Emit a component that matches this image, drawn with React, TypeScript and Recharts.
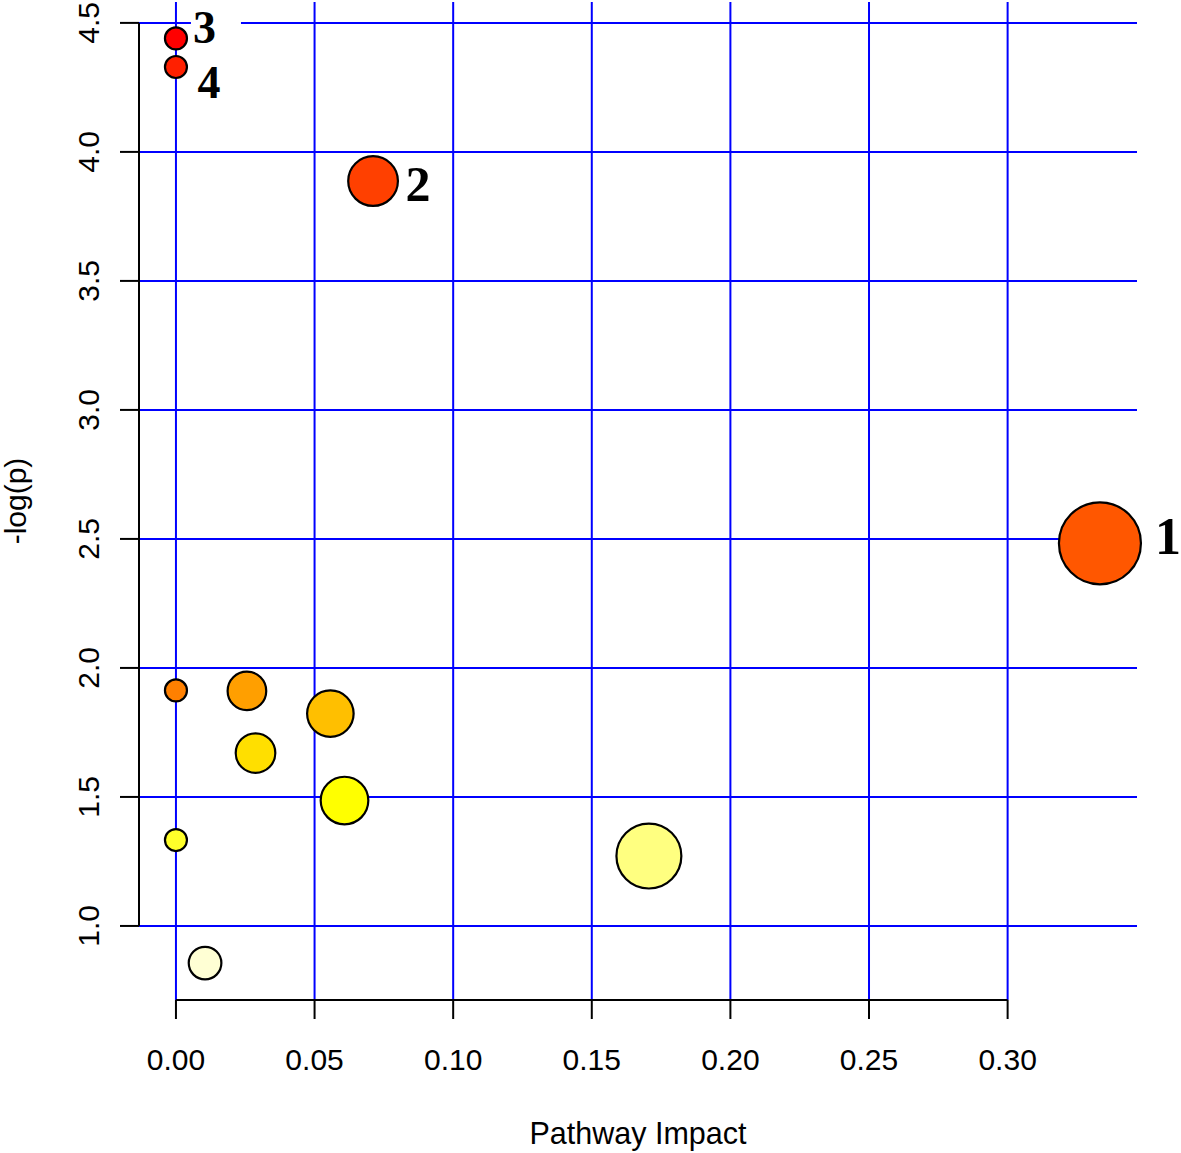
import React from 'react';
import {
  ScatterChart,
  Scatter,
  XAxis,
  YAxis,
  ReferenceLine,
  Label,
} from 'recharts';

// ---- data ----
const impacts = [0.3333, 0.0711, 0.0, 0.0, 0.0, 0.0256, 0.0557, 0.0287, 0.0608, 0.0, 0.1706, 0.0105];
const logPs = [2.483, 3.887, 4.44, 4.329, 1.913, 1.911, 1.823, 1.67, 1.486, 1.333, 1.271, 0.856];
const pointLabels = ['1', '2', '3', '4', '', '', '', '', '', '', '', ''];

const xTicks = [0.0, 0.05, 0.1, 0.15, 0.2, 0.25, 0.3];
const yTicks = [1.0, 1.5, 2.0, 2.5, 3.0, 3.5, 4.0, 4.5];
const xDomain: [number, number] = [-0.01333, 0.34667];
const yDomain: [number, number] = [0.713, 4.581];

// ---- styles ----
const heatFills = ['#FF5700', '#FF4000', '#FF0000', '#FF2000', '#FF8000', '#FF9F00', '#FFBF00', '#FFDF00', '#FFFF00', '#FFFF2A', '#FFFF80', '#FFFFD4'];
const labelStyle: Record<string, { dx: number; dy: number; size: number; box: number }> = {
  '1': { dx: 14, dy: 10.5, size: 52, box: 22 },
  '2': { dx: 7.5, dy: 20, size: 50, box: 24 },
  '3': { dx: 6, dy: 4.5, size: 46, box: 50 },
  '4': { dx: 10.5, dy: 31, size: 46, box: 26 },
};

const data = impacts.map((impact, i) => ({
  impact,
  logp: logPs[i],
  label: pointLabels[i],
  fill: heatFills[i],
}));

const maxImpact = Math.max(...impacts);
const radiusFor = (imp: number) => 11 + 30 * Math.sqrt(imp / maxImpact);

const SANS = '"Liberation Sans", Arial, Helvetica, sans-serif';
const SERIF = '"Liberation Serif", "Times New Roman", Times, serif';
const GRID = '#0000FF';

const Bubble = (props: any) => {
  const { cx, cy, payload } = props;
  if (cx == null || cy == null) return null;
  const r = radiusFor(payload.impact);
  const ls = payload.label ? labelStyle[payload.label] : null;
  const tx = cx + r + (ls ? ls.dx : 0);
  const ty = cy + (ls ? ls.dy : 0);
  return (
    <g>
      <circle cx={cx} cy={cy} r={r} fill={payload.fill} stroke="#000" strokeWidth={2.2} />
      {ls && (
        <g>
          <rect x={tx - 2} y={ty - ls.size * 0.82} width={ls.box} height={ls.size * 1.0} fill="#fff" />
          <text x={tx} y={ty} fontFamily={SERIF} fontWeight="bold" fontSize={ls.size} fill="#000">
            {payload.label}
          </text>
        </g>
      )}
    </g>
  );
};

const YTick = (props: any) => {
  const { x, y, payload } = props;
  return (
    <text
      x={x}
      y={y}
      transform={`rotate(-90, ${x}, ${y})`}
      textAnchor="middle"
      fontFamily={SANS}
      fontSize={30}
      fill="#000"
    >
      {Number(payload.value).toFixed(1)}
    </text>
  );
};

const XTitle = (props: any) => {
  const vb = props.viewBox || { x: 0, y: 0, width: 0, height: 0 };
  return (
    <text x={vb.x + vb.width / 2} y={vb.y + 144} textAnchor="middle" fontFamily={SANS} fontSize={30.5} fill="#000">
      Pathway Impact
    </text>
  );
};

const YTitle = (props: any) => {
  const vb = props.viewBox || { x: 0, y: 0, width: 0, height: 0 };
  const x = vb.x + 26;
  const y = vb.y + vb.height / 2;
  return (
    <text x={x} y={y} transform={`rotate(-90, ${x}, ${y})`} textAnchor="middle" fontFamily={SANS} fontSize={30} fill="#000">
      -log(p)
    </text>
  );
};

export default function App() {
  return (
    <div style={{ position: 'absolute', left: 0, top: 0, background: '#fff' }}>
      <ScatterChart width={1181} height={1153} margin={{ top: 2, right: 44, bottom: 0, left: 0 }}>
        <XAxis
          type="number"
          dataKey="impact"
          domain={xDomain}
          ticks={xTicks}
          height={153}
          axisLine={false}
          tickSize={19}
          tickMargin={30}
          tickLine={{ stroke: '#000', strokeWidth: 2 }}
          tick={{ fill: '#000', fontSize: 30, fontFamily: SANS }}
          tickFormatter={(v: number) => v.toFixed(2)}
          interval={0}
        >
          <Label content={XTitle} />
        </XAxis>
        <YAxis
          type="number"
          dataKey="logp"
          domain={yDomain}
          ticks={yTicks}
          width={139}
          axisLine={false}
          tickSize={19}
          tickMargin={21}
          tickLine={{ stroke: '#000', strokeWidth: 2 }}
          tick={<YTick />}
          interval={0}
        >
          <Label content={YTitle} />
        </YAxis>
        {xTicks.map((t) => (
          <ReferenceLine key={`gx${t}`} x={t} stroke={GRID} strokeWidth={2} />
        ))}
        {yTicks.map((t) => (
          <ReferenceLine key={`gy${t}`} y={t} stroke={GRID} strokeWidth={2} />
        ))}
        <ReferenceLine
          segment={[{ x: 0, y: yDomain[0] }, { x: 0.3, y: yDomain[0] }]}
          stroke="#000"
          strokeWidth={2}
          ifOverflow="visible"
        />
        <ReferenceLine
          segment={[{ x: xDomain[0], y: 1.0 }, { x: xDomain[0], y: 4.5 }]}
          stroke="#000"
          strokeWidth={2}
          ifOverflow="visible"
        />
        <Scatter data={data} shape={<Bubble />} isAnimationActive={false} />
      </ScatterChart>
    </div>
  );
}
